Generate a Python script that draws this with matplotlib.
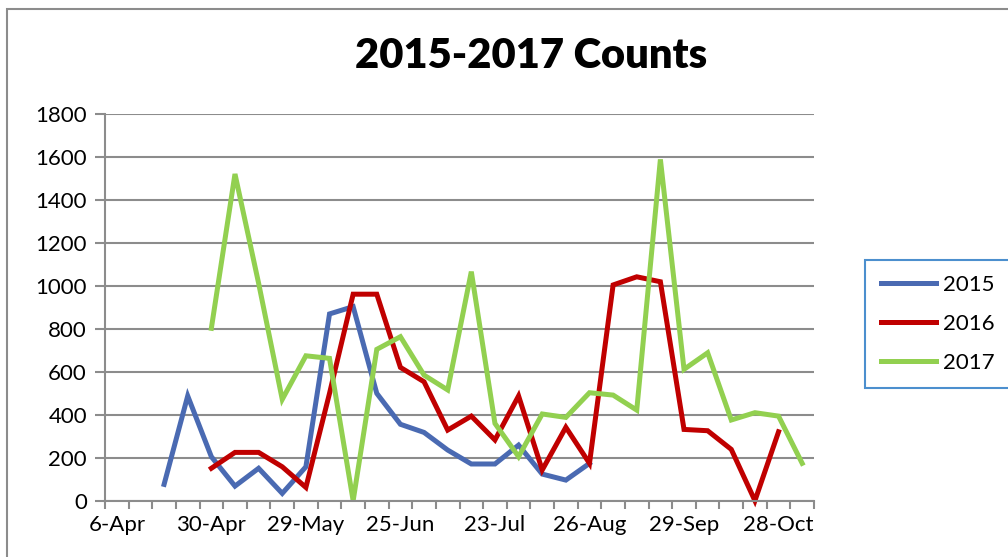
import numpy as np
import matplotlib.pyplot as plt
from matplotlib.patches import Rectangle

plt.rcParams["font.family"] = ["Lato", "DejaVu Sans"]

# Weekly categories (30 of them), label shown on every 4th one
n_categories = 30
tick_labels = ["6-Apr", "30-Apr", "29-May", "25-Jun", "23-Jul", "26-Aug", "29-Sep", "28-Oct"]

# Series values (None where the year has no count)
counts_2015 = [None, None, 76, 488, 205, 68, 151, 34, 158, 870, 904, 500, 356, 318,
               236, 171, 171, 259, 124, 96, 174]
counts_2016 = [None, None, None, None, 151, 225, 225, 158, 62, 500, 962, 962, 621, 554,
               329, 394, 283, 488, 143, 342, 174, 1005, 1043, 1020, 332, 326, 239, 0, 321]
counts_2017 = [None, None, None, None, 803, 1522, 1013, 472, 675, 663, 0, 705, 764, 585,
               516, 1067, 360, 205, 404, 388, 503, 492, 422, 1590, 612, 689, 376, 410, 394, 174]

series = [("2015", counts_2015, "#4A6AB2"),
          ("2016", counts_2016, "#C00000"),
          ("2017", counts_2017, "#92D050")]

fig = plt.figure(figsize=(10.08, 5.57), dpi=100)
ax = fig.add_axes([105 / 1008, 1 - 500.7 / 557, (814 - 105) / 1008, (500.7 - 114.3) / 557])

for name, vals, color in series:
    y = np.array([np.nan if v is None else v for v in vals], dtype=float)
    x = np.arange(len(y)) + 0.5
    ax.plot(x, y, color=color, lw=3.6, solid_joinstyle="miter", label=name,
            clip_on=False)

ax.set_xlim(0, n_categories)
ax.set_ylim(0, 1800)

grid_color = "#8C8C8C"
ax.set_yticks(np.arange(0, 1801, 200))
ax.yaxis.grid(True, color=grid_color, lw=1.5)
ax.set_axisbelow(True)

# category boundaries carry tick marks, labels sit on every 4th category
ax.set_xticks(np.arange(0, n_categories + 1), minor=True)
ax.set_xticks(np.arange(0, n_categories, 4) + 0.5)
ax.set_xticklabels(tick_labels)
ax.tick_params(axis="x", which="major", length=0, pad=10)
ax.tick_params(axis="x", which="minor", length=6, width=1.5, color=grid_color)
ax.tick_params(axis="y", length=7, width=1.5, color=grid_color, pad=6)
ax.tick_params(labelsize=16)

for side in ["top", "right"]:
    ax.spines[side].set_visible(False)
for side in ["left", "bottom"]:
    ax.spines[side].set_color(grid_color)
    ax.spines[side].set_linewidth(1.5)

fig.text(0.527, 0.9, "2015-2017 Counts", ha="center", va="center",
         fontsize=30, fontweight="heavy")

leg = fig.legend(loc="center left", bbox_to_anchor=(865 / 1008, 1 - 324 / 557),
                 fontsize=16, frameon=True, fancybox=False, handlelength=2.5,
                 handletextpad=0.3, labelspacing=0.85, borderpad=0.7,
                 borderaxespad=0)
leg.get_frame().set_edgecolor("#1F73C2")
leg.get_frame().set_linewidth(1.5)

# outer chart frame, running off the right and bottom of the image
fig.patches.append(Rectangle((7 / 1008, -0.1), 1.2, 1 - 9 / 557 + 0.1,
                             transform=fig.transFigure, fill=False,
                             edgecolor=grid_color, lw=1.5))

plt.savefig("out.png", dpi=100)
plt.close()
